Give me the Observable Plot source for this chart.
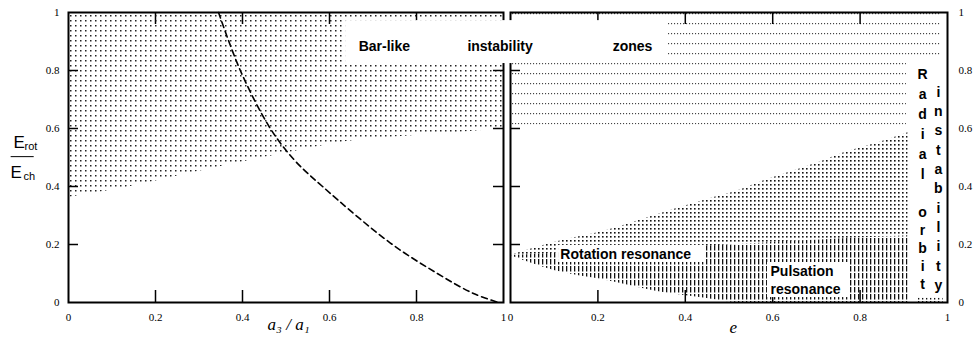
<!DOCTYPE html>
<html><head><meta charset="utf-8">
<script src="https://cdn.jsdelivr.net/npm/d3@7"></script>
<script src="https://cdn.jsdelivr.net/npm/@observablehq/plot@0.6"></script>
<style>
html,body{margin:0;padding:0;background:#fff;}
#wrap{position:relative;width:975px;height:338px;overflow:hidden;background:#fff;}
#wrap svg{position:absolute;top:0;}
</style></head><body>
<svg width="0" height="0" style="position:absolute">
<defs>
<pattern id="dotL" patternUnits="userSpaceOnUse" width="5" height="5"><rect x="0" y="0" width="1.5" height="1.5" fill="#222"/></pattern>
<pattern id="rowR" patternUnits="userSpaceOnUse" x="0" y="3" width="3" height="10"><rect x="0" y="0" width="1.1" height="1.2" fill="#444"/></pattern>
<pattern id="dotW" patternUnits="userSpaceOnUse" width="4" height="4"><rect x="0" y="0" width="1.6" height="1.6" fill="#111"/></pattern>
<pattern id="hatchW" patternUnits="userSpaceOnUse" width="4" height="7"><rect x="0" y="0" width="1.3" height="5.5" fill="#111"/></pattern>
</defs></svg>
<div id="wrap"></div>
<script>
// ---- ticks ----
const xTicks = [0, 0.2, 0.4, 0.6, 0.8, 1];
const yTicks = [0, 0.2, 0.4, 0.6, 0.8, 1];
const innerTicks = [0.2, 0.4, 0.6, 0.8];

// ---- left panel (a3/a1) ----
// lower boundary of the bar-like instability zone
const barX = [0, 0.135, 0.287, 0.44, 0.5, 0.64, 0.79, 0.95, 1];
const barY = [0.362, 0.397, 0.448, 0.497, 0.515, 0.555, 0.575, 0.593, 0.6];
// dashed curve
const dashX = [0.345, 0.395, 0.464, 0.52, 0.584, 0.74, 0.848, 0.931, 0.989];
const dashY = [1, 0.8, 0.6, 0.49, 0.4, 0.205, 0.1, 0.031, 0];

// ---- right panel (e) ----
const wedgeE     = [0, 0.1, 0.22, 0.33, 0.45, 0.52, 0.58, 0.62, 0.7, 0.76, 0.84, 0.91];
const wedgeUpper = [0.162, 0.207, 0.248, 0.30, 0.355, 0.385, 0.42, 0.44, 0.48, 0.515, 0.55, 0.585];
const wedgeMid   = [0.162, 0.17, 0.178, 0.185, 0.195, 0.2, 0.205, 0.21, 0.215, 0.22, 0.225, 0.23];
const wedgeLower = [0.162, 0.11, 0.076, 0.04, 0.014, 0, 0, 0, 0, 0, 0, 0];
// bar-like zone in right panel
const zoneRx1 = [0, 0.906];
const zoneRx2 = [0.906, 0.984];
const zoneRy1 = [0.612, 0.834];
const zoneRy2 = [1, 1];
// small pulsation patch bottom-right
const patchE = [0.93, 0.99];
const patchY = [0, 0.014];

// ---- labels ----
const barLabels = ["Bar-like", "instability", "zones"];
const barLabelX = [0.667, 0.917, 1.251];
const barLabelY = 0.883;
const barBox = {x1: 0.637, x2: 1.379, y1: 0.824, y2: 0.972};
const rotLabel = {text: "Rotation resonance", x: 0.114, y: 0.167};
const rotBox = {x1: 0.11, x2: 0.446, y1: 0.138, y2: 0.197};
const pulsLabels = [{text: "Pulsation", x: 0.595, y: 0.107}, {text: "resonance", x: 0.595, y: 0.045}];
const pulsBox = {x1: 0.588, x2: 0.778, y1: 0.017, y2: 0.138};
const radialCols = [
  {text: "R\na\nd\ni\na\nl", x: 0.943, y: 0.621, lh: 1.43},
  {text: "o\nr\nb\ni\nt", x: 0.943, y: 0.191, lh: 1.30},
  {text: "i\nn\ns\nt\na\nb\ni\nl\ni\nt\ny", x: 0.979, y: 0.398, lh: 1.38}
];

const barData = barX.map((x, i) => ({x, y: barY[i]}));
const dashData = dashX.map((x, i) => ({x, y: dashY[i]}));
const wedge = wedgeE.map((e, i) => ({e, up: wedgeUpper[i], mid: wedgeMid[i], lo: wedgeLower[i]}));
const zoneR = zoneRx1.map((x1, i) => ({x1, x2: zoneRx2[i], y1: zoneRy1[i], y2: zoneRy2[i]}));
const patch = [{x1: patchE[0], x2: patchE[1], y1: patchY[0], y2: patchY[1]}];

const bold = {fontFamily: "'Liberation Sans', Arial, sans-serif", fontWeight: "bold", fontSize: 14, fill: "black"};
const serifIt = {fontFamily: "'Liberation Serif', 'Times New Roman', serif", fontStyle: "italic", fontSize: 17, fill: "black"};
const sans = {fontFamily: "'Liberation Sans', Arial, sans-serif", fill: "black"};

const left = Plot.plot({
  width: 506, height: 338, marginLeft: 68, marginRight: 3, marginTop: 12, marginBottom: 36,
  style: {fontFamily: "'Liberation Serif', 'Times New Roman', serif", fontSize: "11px", background: "transparent", overflow: "visible", color: "black"},
  x: {domain: [0, 1], ticks: xTicks, tickSize: 0, tickPadding: 11, tickFormat: d => String(d), label: null},
  y: {domain: [0, 1], ticks: yTicks, tickSize: 0, tickPadding: 9, tickFormat: d => String(d), label: null, axis: "left"},
  marks: [
    Plot.areaY(barData, {x: "x", y1: "y", y2: 1, fill: "url(#dotL)", curve: "monotone-x"}),
    Plot.line(dashData, {x: "x", y: "y", stroke: "black", strokeWidth: 1.6, strokeDasharray: "6,4", curve: "catmull-rom"}),
    Plot.frame({stroke: "black", strokeWidth: 2}),
    Plot.ruleX(innerTicks, {insetTop: 278, stroke: "black", strokeWidth: 1.5}),
    Plot.ruleX(innerTicks, {insetBottom: 278, stroke: "black", strokeWidth: 1.5}),
    Plot.ruleY(innerTicks, {insetRight: 425, stroke: "black", strokeWidth: 1.5}),
    Plot.ruleY(innerTicks, {insetLeft: 425, stroke: "black", strokeWidth: 1.5}),
    // y title E_rot / E_ch
    Plot.text(["E"], {text: d => d, frameAnchor: "left", y: 0.552, dx: -55, textAnchor: "start", fontSize: 17, ...sans}),
    Plot.text(["rot"], {text: d => d, frameAnchor: "left", y: 0.538, dx: -44, textAnchor: "start", fontSize: 11, ...sans}),
    Plot.link([{x1: -0.133, x2: -0.08, y: 0.503}], {x1: "x1", x2: "x2", y1: "y", y2: "y", stroke: "black", strokeWidth: 1}),
    Plot.text(["E"], {text: d => d, frameAnchor: "left", y: 0.448, dx: -58, textAnchor: "start", fontSize: 17, ...sans}),
    Plot.text(["ch"], {text: d => d, frameAnchor: "left", y: 0.436, dx: -45, textAnchor: "start", fontSize: 11, ...sans}),
    // x title
    Plot.text(["a\u2083 / a\u2081"], {text: d => d, x: 0.506, frameAnchor: "bottom", dy: 27, ...serifIt}),
    // bar-like instability label box
    Plot.rect([barBox], {x1: "x1", x2: "x2", y1: "y1", y2: "y2", fill: "white"}),
    Plot.text(barLabels, {text: d => d, x: (d, i) => barLabelX[i], y: barLabelY, textAnchor: "start", ...bold})
  ]
});

const right = Plot.plot({
  width: 469, height: 338, marginLeft: 4, marginRight: 28, marginTop: 12, marginBottom: 36,
  style: {fontFamily: "'Liberation Serif', 'Times New Roman', serif", fontSize: "11px", background: "transparent", overflow: "visible", color: "black"},
  x: {domain: [0, 1], ticks: xTicks, tickSize: 0, tickPadding: 11, tickFormat: d => String(d), label: null},
  y: {domain: [0, 1], ticks: yTicks, tickSize: 0, tickPadding: 11, tickFormat: d => String(d), label: null, axis: "right"},
  marks: [
    Plot.rect(zoneR, {x1: "x1", x2: "x2", y1: "y1", y2: "y2", fill: "url(#rowR)"}),
    Plot.areaY(wedge, {x: "e", y1: "mid", y2: "up", fill: "url(#dotW)", curve: "monotone-x"}),
    Plot.areaY(wedge, {x: "e", y1: "lo", y2: "mid", fill: "url(#hatchW)", curve: "monotone-x"}),
    Plot.rect(patch, {x1: "x1", x2: "x2", y1: "y1", y2: "y2", fill: "url(#hatchW)"}),
    Plot.frame({stroke: "black", strokeWidth: 2}),
    Plot.ruleX(innerTicks, {insetTop: 278, stroke: "black", strokeWidth: 1.5}),
    Plot.ruleX(innerTicks, {insetBottom: 278, stroke: "black", strokeWidth: 1.5}),
    Plot.ruleY(innerTicks, {insetRight: 427, stroke: "black", strokeWidth: 1.5}),
    Plot.text(["e"], {text: d => d, x: 0.51, frameAnchor: "bottom", dy: 30, ...serifIt}),
    Plot.rect([rotBox, pulsBox], {x1: "x1", x2: "x2", y1: "y1", y2: "y2", fill: "white"}),
    Plot.text([rotLabel, ...pulsLabels], {text: "text", x: "x", y: "y", textAnchor: "start", ...bold}),
    ...radialCols.map(c => Plot.text([c], {text: "text", x: "x", y: "y", lineHeight: c.lh, textAnchor: "middle", ...bold}))
  ]
});

const wrap = document.getElementById("wrap");
left.style.left = "0px"; left.style.zIndex = "2"; left.style.overflow = "visible"; left.style.background = "transparent";
right.style.left = "506px"; right.style.zIndex = "1"; right.style.overflow = "visible"; right.style.background = "transparent";
wrap.appendChild(right);
wrap.appendChild(left);
</script>
</body></html>
